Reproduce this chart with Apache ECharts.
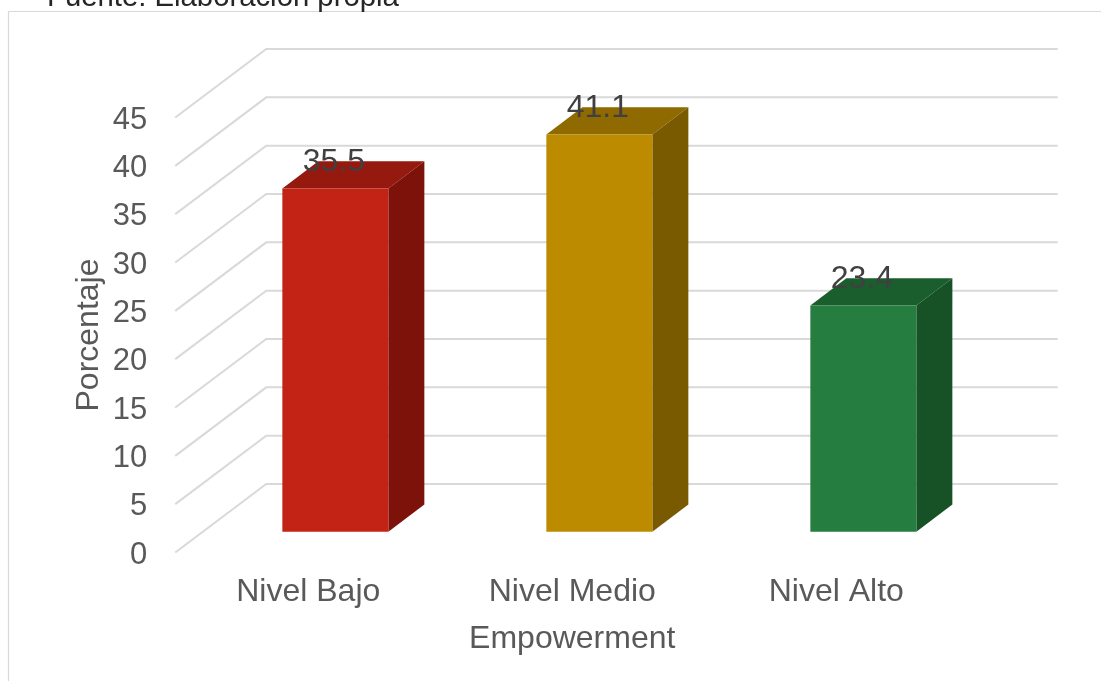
<!DOCTYPE html>
<html>
<head>
<meta charset="utf-8">
<style>html,body{margin:0;padding:0;background:#fff}#c{width:1101px;height:681px}</style>
<script src="https://cdn.jsdelivr.net/npm/echarts@6/dist/echarts.min.js"></script>
</head>
<body>
<div id="c"></div>
<script>
var categories = ['Nivel Bajo', 'Nivel Medio', 'Nivel Alto'];
var values = [35.5, 41.1, 23.4];
var yTicks = [0, 5, 10, 15, 20, 25, 30, 35, 40, 45];
var frontColors = ['#C32314', '#BC8B00', '#257D40'];
var topColors = ['#95190E', '#8F6A00', '#1B5E2D'];
var sideColors = ['#7C120A', '#7A5A00', '#175126'];

var FONT = '"Liberation Sans", Arial, sans-serif';
var WALL_DX = 91, WALL_DY = -68.5;
var BAR_W = 106, BAR_SHIFT_X = 27.1, BAR_SHIFT_Y = -20.8, BAR_DX = 36, BAR_DY = -27.2;

function poly(points, fill) {
  return { type: 'polygon', shape: { points: points }, style: { fill: fill } };
}

var chart = echarts.init(document.getElementById('c'), null, { renderer: 'canvas' });
chart.setOption({
  animation: false,
  backgroundColor: '#fff',
  grid: { left: 176.25, top: 117.5, width: 792, height: 435, containLabel: false },
  xAxis: {
    type: 'category',
    data: categories,
    name: 'Empowerment',
    nameLocation: 'middle',
    nameGap: 71,
    nameTextStyle: { fontFamily: FONT, fontSize: 32, color: '#595959' },
    axisLine: { show: false },
    axisTick: { show: false },
    splitLine: { show: false },
    axisLabel: { fontFamily: FONT, fontSize: 32, color: '#595959', margin: 24, interval: 0 }
  },
  yAxis: {
    type: 'value',
    min: 0,
    max: 45,
    interval: 5,
    name: 'Porcentaje',
    nameLocation: 'middle',
    nameGap: 71,
    nameMoveOverlap: false,
    nameTextStyle: { fontFamily: FONT, fontSize: 32, color: '#595959' },
    axisLine: { show: false },
    axisTick: { show: false },
    splitLine: { show: false },
    axisLabel: {
      margin: 29,
      formatter: '{a|{value}}',
      rich: { a: { fontFamily: FONT, fontSize: 31, color: '#595959', padding: [5, 0, 0, 0] } }
    }
  },
  graphic: [
    { type: 'polyline', silent: true, z: -1,
      shape: { points: [[1101, 11.5], [8.5, 11.5], [8.5, 681]] },
      style: { stroke: '#d9d9d9', lineWidth: 1.2, fill: null } },
    { type: 'text', left: 47, top: -17, silent: true,
      style: { text: 'Fuente: Elaboración propia', font: '29.3px ' + FONT, fill: '#262626' } }
  ],
  series: [
    {
      type: 'custom',
      silent: true,
      clip: false,
      z: 1,
      data: yTicks.map(function (t) { return [0, t]; }),
      encode: { x: 0, y: 1 },
      renderItem: function (params, api) {
        var cs = params.coordSys;
        var p = api.coord([0, api.value(1)]);
        var style = { stroke: '#d9d9d9', lineWidth: 2, fill: null };
        return {
          type: 'polyline',
          shape: { points: [
            [cs.x - 1, p[1]],
            [cs.x - 1 + WALL_DX, p[1] + WALL_DY],
            [cs.x + cs.width + WALL_DX - 1.5, p[1] + WALL_DY]
          ] },
          style: style
        };
      }
    },
    {
      type: 'custom',
      silent: true,
      clip: false,
      z: 2,
      data: values.map(function (v, i) { return [i, v]; }),
      encode: { x: 0, y: 1 },
      renderItem: function (params, api) {
        var i = api.value(0), v = api.value(1);
        var top = api.coord([i, v]);
        var base = api.coord([i, 0]);
        var l = top[0] + BAR_SHIFT_X - BAR_W / 2, r = l + BAR_W;
        var t = top[1] + BAR_SHIFT_Y, b = base[1] + BAR_SHIFT_Y;
        return {
          type: 'group',
          children: [
            poly([[l, t], [r, t], [r + BAR_DX, t + BAR_DY], [l + BAR_DX, t + BAR_DY]], topColors[i]),
            poly([[r, t], [r + BAR_DX, t + BAR_DY], [r + BAR_DX, b + BAR_DY], [r, b]], sideColors[i]),
            poly([[l, t], [r, t], [r, b], [l, b]], frontColors[i]),
            {
              type: 'text',
              z2: 10,
              style: {
                text: String(v),
                x: (l + r) / 2 - 1.5,
                y: t - 26,
                align: 'center',
                verticalAlign: 'middle',
                font: '32px ' + FONT,
                fill: '#404040'
              }
            }
          ]
        };
      }
    }
  ]
});
</script>
</body>
</html>
